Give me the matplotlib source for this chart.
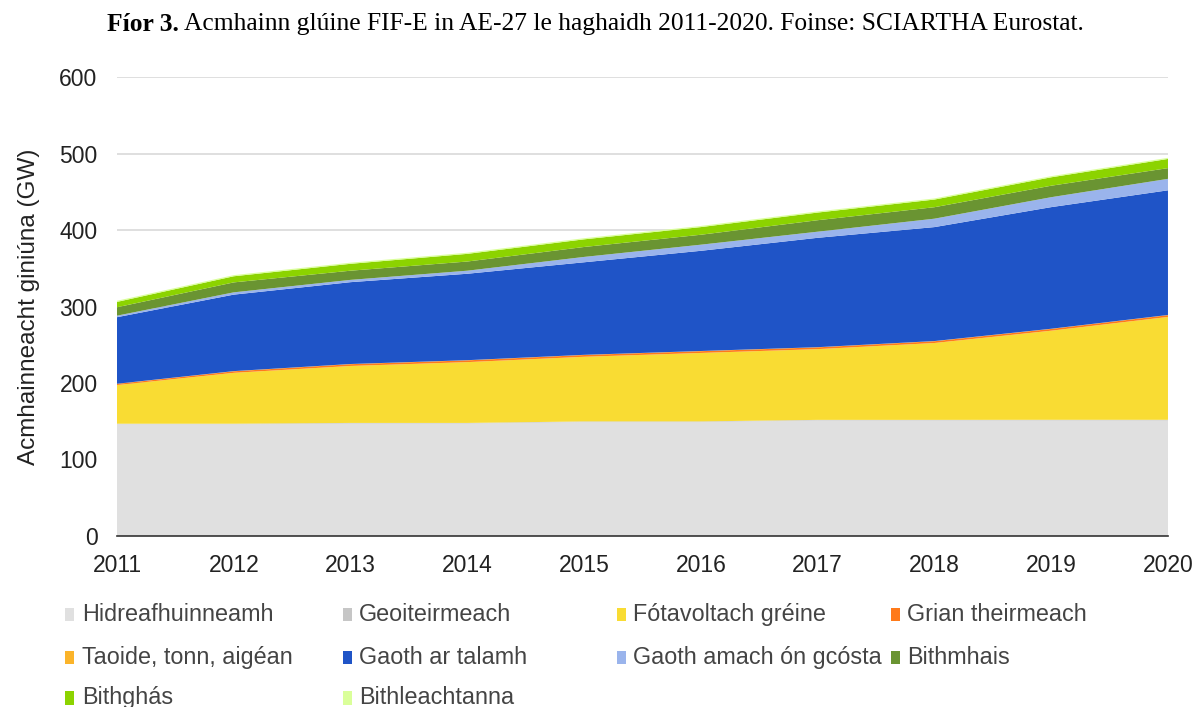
import matplotlib
matplotlib.use("Agg")
import matplotlib.pyplot as plt
from matplotlib.patches import Rectangle

plt.rcParams['font.family'] = ['Liberation Sans', 'DejaVu Sans']

years = [2011, 2012, 2013, 2014, 2015, 2016, 2017, 2018, 2019, 2020]

# capacity in GW
hydro = [146, 146, 147, 147, 149, 149, 151, 151, 151, 151]
geothermal = [0.8, 0.8, 0.8, 0.8, 0.8, 0.8, 0.8, 0.8, 0.9, 0.9]
solar_pv = [50.5, 66.5, 74.5, 79.5, 84.5, 89.5, 92.5, 100.5, 116.5, 134.5]
solar_thermal = [1.5, 2.0, 2.3, 2.3, 2.3, 2.3, 2.3, 2.3, 2.3, 2.3]
tidal = [0.24, 0.24, 0.24, 0.24, 0.24, 0.24, 0.24, 0.24, 0.24, 0.24]
wind_onshore = [87, 100, 107, 113, 121, 131, 143, 149, 159, 163]
wind_offshore = [2, 3, 3, 4, 7, 8, 8, 11, 13, 15]
biomass = [11, 13, 12, 12, 13, 13, 15, 15, 15, 14]
biogas = [7, 8, 9, 10, 10, 10, 10, 10, 11, 12]
bioliquids = [1.5, 1.5, 1.5, 1.5, 1.5, 1.5, 1.5, 1.5, 1.5, 1.5]

labels = ["Hidreafhuinneamh", "Geoiteirmeach", "Fótavoltach gréine", "Grian theirmeach",
          "Taoide, tonn, aigéan", "Gaoth ar talamh", "Gaoth amach ón gcósta", "Bithmhais",
          "Bithghás", "Bithleachtanna"]
colors = ["#e0e0e0", "#c6c6c6", "#f9dc33", "#ff7a1a", "#fbb42a",
          "#1f54c7", "#9ab4ec", "#6a9432", "#8cd300", "#daff9a"]
series = [hydro, geothermal, solar_pv, solar_thermal, tidal,
          wind_onshore, wind_offshore, biomass, biogas, bioliquids]

fig = plt.figure(figsize=(12.01, 7.07), dpi=100)
ax = fig.add_axes([0.0974, 0.2419, 0.8751, 0.6491])

ax.stackplot(years, *series, colors=colors, linewidth=0)

ax.set_xlim(2011, 2020)
ax.set_ylim(0, 600)
ax.set_yticks(range(0, 601, 100))
ax.set_xticks(years)
ax.grid(axis='y', color='#d9d9d9', linewidth=1.2)
ax.set_axisbelow(True)
for s in ['top', 'right', 'left']:
    ax.spines[s].set_visible(False)
ax.spines['bottom'].set_color('#333333')
ax.spines['bottom'].set_linewidth(1.2)
ax.spines['bottom'].set_zorder(5)
ax.tick_params(length=0, labelsize=16.5, colors='#222222')
ax.tick_params(axis='x', pad=13)
ax.tick_params(axis='y', pad=14)
ax.set_ylabel("Acmhainneacht giniúna (GW)", fontsize=17.5, color='#222222')
ax.yaxis.set_label_coords(-0.073, 0.5)

# title: bold figure number followed by regular text
t1 = fig.text(0.089, 0.966, "Fíor 3.", fontfamily='Liberation Serif', fontweight='bold',
              fontsize=18.4, ha='left', va='center')
fig.canvas.draw()
bb = t1.get_window_extent()
x_next = (bb.x1 + 5) / fig.bbox.width
fig.text(x_next, 0.966, "Acmhainn glúine FIF-E in AE-27 le haghaidh 2011-2020. Foinse: SCIARTHA Eurostat.",
         fontfamily='Liberation Serif', fontsize=18.4, ha='left', va='center')

# legend, 4 fixed-width columns
col_x = [0.0545, 0.2856, 0.5137, 0.7419]
row_y = [0.131, 0.070, 0.013]
for i, (lab, c) in enumerate(zip(labels, colors)):
    r, k = divmod(i, 4)
    x0 = col_x[k]
    y0 = row_y[r]
    fig.patches.append(Rectangle((x0, y0 - 0.0095), 0.0075, 0.019, transform=fig.transFigure,
                                 facecolor=c, edgecolor='none'))
    fig.text(x0 + 0.0135, y0, lab, fontsize=16.8, color='#444444', ha='left', va='center')

fig.savefig("out.png", dpi=100)
